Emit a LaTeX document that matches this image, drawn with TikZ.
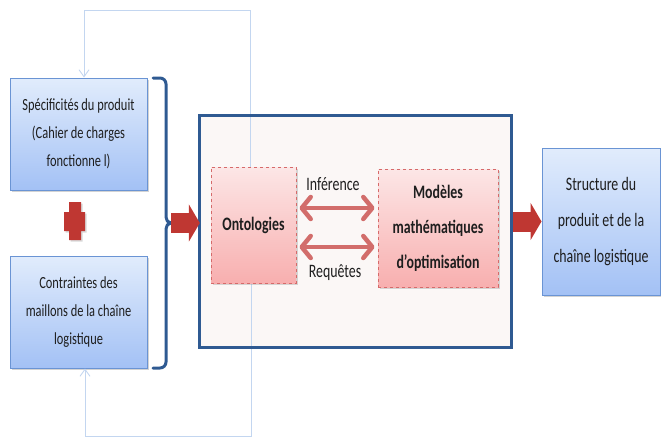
\documentclass[tikz,border=0pt]{standalone}
\usepackage{fontspec}
\setmainfont{Carlito}[FakeStretch=0.73]
\usetikzlibrary{shadows,arrows.meta,calc}
\definecolor{boxblue}{HTML}{6A94D4}
\definecolor{bluetop}{HTML}{E1ECFC}
\definecolor{bluebot}{HTML}{A3C1F5}
\definecolor{pinktop}{HTML}{FCE6E6}
\definecolor{pinkbot}{HTML}{F8AFAF}
\definecolor{pinkline}{HTML}{D66A6A}
\definecolor{navy}{HTML}{2F5A92}
\definecolor{mainfill}{HTML}{FBF7F6}
\definecolor{redarrow}{HTML}{BF3732}
\definecolor{dblred}{HTML}{D26D6B}
\definecolor{fbline}{HTML}{C3D6F0}
\definecolor{txt}{HTML}{1E1E1E}
\tikzset{
  bluebox/.style={draw=boxblue, line width=1pt, top color=bluetop, bottom color=bluebot,
    align=center, text=txt, inner sep=0pt,
    drop shadow={shadow xshift=2pt, shadow yshift=-2pt, opacity=0.35}},
  pinkbox/.style={draw=pinkline, dashed, line width=0.9pt, top color=pinktop, bottom color=pinkbot,
    align=center, text=txt, inner sep=0pt, font=\fontsize{19}{35}\selectfont\bfseries,
    drop shadow={shadow xshift=2pt, shadow yshift=-2pt, opacity=0.3}},
  smalltext/.style={font=\fontsize{17}{28}\selectfont},
  fbarrow/.style={draw=fbline, line width=0.9pt, -{Straight Barb[length=7pt,width=10pt]}},
  bigred/.style={draw=redarrow, line width=20pt, -{Triangle[length=11pt,width=37pt]}},
  dblarrow/.style={draw=dblred, line width=4.5pt,
    {Straight Barb[length=9pt,width=22pt,round]}-{Straight Barb[length=9pt,width=22pt,round]}},
  lbl/.style={font=\fontsize{19}{22}\selectfont, text=txt, inner sep=0pt}
}
\begin{document}
\begin{tikzpicture}[x=1pt,y=-1pt]
\useasboundingbox (0,0) rectangle (661,439);

% left input boxes
\node[bluebox, smalltext, minimum width=137pt, minimum height=112pt] (spec) at (78.5,134)
  {Spécificités du produit\\(Cahier de charges\\fonctionne l)};
\node[bluebox, smalltext, minimum width=137pt, minimum height=112pt] (contr) at (78.5,312)
  {Contraintes des\\maillons de la chaîne\\logistique};

% plus sign
\fill[redarrow, drop shadow={shadow xshift=1.5pt, shadow yshift=-1.5pt, opacity=0.3}]
  (69,202) -- (81,202) -- (81,212) -- (85,212) -- (85,231) -- (81,231) -- (81,240)
  -- (69,240) -- (69,231) -- (64,231) -- (64,212) -- (69,212) -- cycle;

% brace
\draw[navy, line width=3pt, line cap=round, line join=round]
  (153,78) -- (160,78) to[out=0,in=90] (166,84) -- (166,217)
  to[out=-90,in=180] (171,223) to[out=180,in=90] (166,229)
  -- (166,362) to[out=-90,in=0] (160,368) -- (153,368);
\coordinate (bracetip) at (171,223);

% main box
\node[fill=mainfill, minimum width=311pt, minimum height=231pt, inner sep=0pt,
  drop shadow={shadow xshift=2pt, shadow yshift=-2pt, opacity=0.25}] (main) at (355.5,231.5) {};

% feedback loop lines
\node[minimum width=85pt, minimum height=116pt, inner sep=0pt] (ontoghost) at (253.5,225) {};
\draw[fbarrow] ([xshift=-3pt]ontoghost.north) -- ([xshift=-3pt]ontoghost.north |- 0,10)
  -| ([xshift=5.5pt]spec.north);
\draw[fbarrow] ([xshift=-2pt]ontoghost.south) -- ([xshift=-2pt]ontoghost.south |- 0,436)
  -| ([xshift=6.5pt]contr.south);

\draw[navy, line width=3pt] (main.north west) rectangle (main.south east);

% inner boxes
\node[pinkbox, minimum width=85pt, minimum height=116pt] (onto) at (253.5,225) {Ontologies};
\node[pinkbox, minimum width=120pt, minimum height=118pt] (model) at (438,228)
  {Modèles\\mathématiques\\d’optimisation};

% double arrows
\draw[dblarrow] ([xshift=3pt,yshift=17pt]onto.east) -- ([xshift=-3pt,yshift=17pt]onto.east -| model.west);
\draw[dblarrow] ([xshift=3pt,yshift=-22pt]onto.east) -- ([xshift=-3pt,yshift=-22pt]onto.east -| model.west);
\node[lbl] (inf) at (333,184) {Inférence};
\node[lbl] (req) at (335,273) {Requêtes};

% output box
\node[bluebox, font=\fontsize{19}{36}\selectfont, minimum width=118pt, minimum height=147pt] (struct)
  at (601,221.5) {Structure du\\produit et de la\\chaîne logistique};

% big red arrows
\draw[bigred] (bracetip) -- (main.west |- bracetip);
\draw[bigred] ([xshift=2pt]struct.west -| main.east) -- (struct.west);
\end{tikzpicture}
\end{document}
